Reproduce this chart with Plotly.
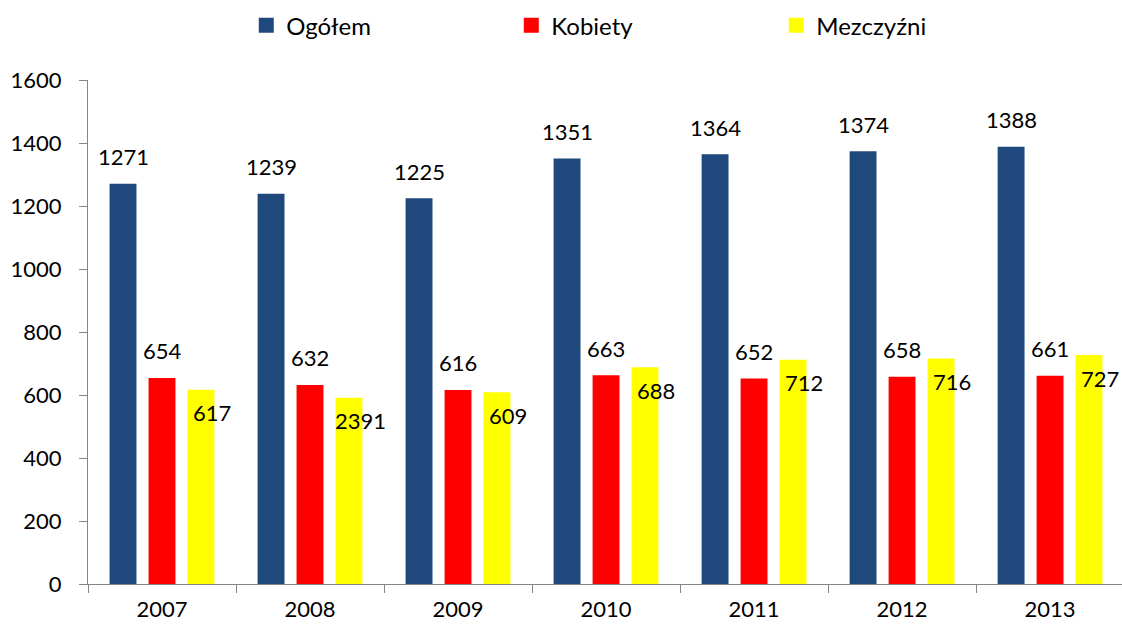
import plotly.graph_objects as go

years = ["2007", "2008", "2009", "2010", "2011", "2012", "2013"]
ogolem = [1271, 1239, 1225, 1351, 1364, 1374, 1388]
kobiety = [654, 632, 616, 663, 652, 658, 661]
mezczyzni = [617, 591, 609, 688, 712, 716, 727]
mezczyzni_labels = ["617", "2391", "609", "688", "712", "716", "727"]

names = ["Ogółem", "Kobiety", "Mezczyźni"]
colors = ["#1F497D", "#FF0000", "#FFFF00"]
series = [ogolem, kobiety, mezczyzni]
labels = [[str(v) for v in ogolem], [str(v) for v in kobiety], mezczyzni_labels]

FONT = "Lato"

fig = go.Figure()
for name, col, vals in zip(names, colors, series):
    fig.add_trace(go.Bar(x=years, y=vals, name=name, showlegend=False,
                         marker=dict(color=col, line=dict(width=0))))
# legend entries with square symbols
for name, col in zip(names, colors):
    fig.add_trace(go.Scatter(x=[None], y=[None], mode="markers", name=name,
                             marker=dict(symbol="square", size=15, color=col)))

xshifts = [-39, 0, 50]
yshifts = [27, 27, -23]
annotations = []
for vals, labs, xs, ys in zip(series, labels, xshifts, yshifts):
    for i, (v, t) in enumerate(zip(vals, labs)):
        annotations.append(dict(x=i, y=v, xref="x", yref="y", text=t, showarrow=False,
                                xshift=xs, yshift=ys, font=dict(size=22, color="black", family=FONT)))

fig.update_layout(
    width=1122, height=627,
    margin=dict(l=88, r=0, t=80, b=43, autoexpand=False),
    paper_bgcolor="white", plot_bgcolor="white",
    barmode="group", bargap=0.21, bargroupgap=0.31,
    font=dict(family=FONT, size=22, color="black"),
    annotations=annotations,
    legend=dict(orientation="h", xref="container", yref="container", x=0.2195, y=0.995,
                xanchor="left", yanchor="top", entrywidth=220, font=dict(size=24)),
    xaxis=dict(type="category", range=[-0.5, 6.486], showline=True, linecolor="#868686", linewidth=1,
               ticks="outside", tickson="boundaries", ticklen=8, tickcolor="#868686",
               showgrid=False, tickfont=dict(size=22), tickangle=0, ticklabelstandoff=6),
    yaxis=dict(range=[0, 1600], dtick=200, showline=True, linecolor="#868686", linewidth=1,
               ticks="outside", ticklen=8, tickcolor="#868686", showgrid=False, zeroline=False,
               tickfont=dict(size=22), ticklabelstandoff=13),
)
fig.write_html("out.html", config={"displayModeBar": False},
               post_script="document.body.style.margin='0';")
